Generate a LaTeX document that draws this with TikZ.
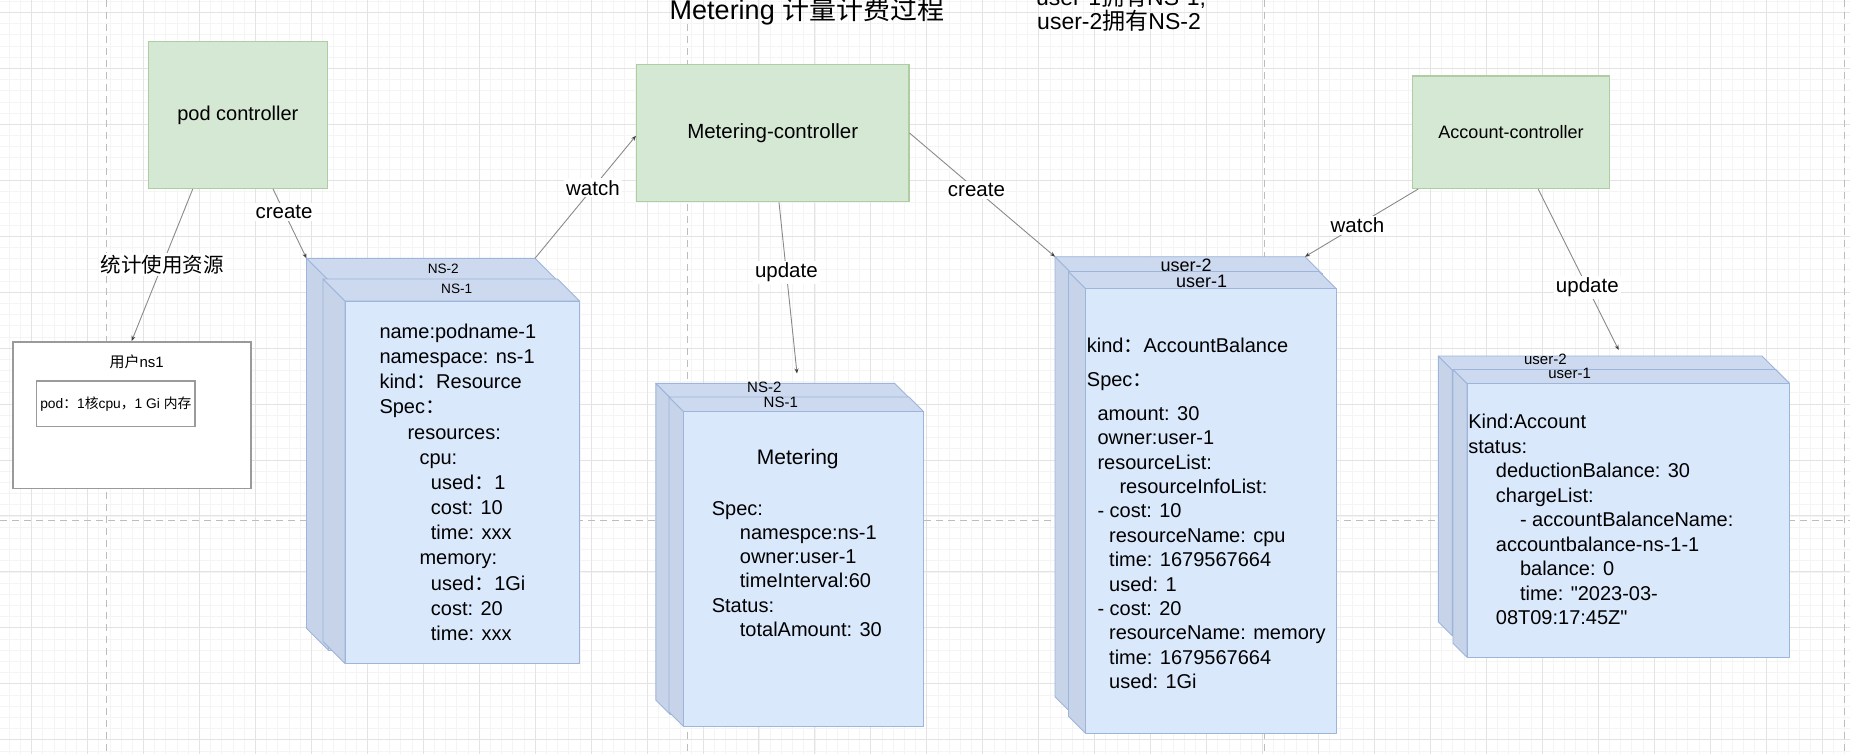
\documentclass[tikz,border=0pt]{standalone}
\usepackage{fontspec}
\setmainfont{Liberation Sans}
\newfontfamily\plainq{Liberation Sans}
\newfontfamily\cjk{Noto Sans CJK SC}
\usetikzlibrary{arrows.meta,calc}
\definecolor{gridmaj}{HTML}{E3E3E3}
\definecolor{gridmin}{HTML}{F4F4F4}
\definecolor{pagec}{HTML}{BDBDBD}
\definecolor{greenf}{HTML}{D5E8D4}
\definecolor{greend}{HTML}{AECDA0}
\definecolor{bluef}{HTML}{DAE8FC}
\definecolor{bluetop}{HTML}{CDD9EE}
\definecolor{blueleft}{HTML}{C7D3E8}
\definecolor{blued}{HTML}{9DB5DA}
\definecolor{arrowc}{HTML}{8A8A8A}
\definecolor{boxd}{HTML}{9A9A9A}
\newcommand\zh[1]{{\cjk #1}}
\newcommand\dq{{\plainq"}}
\newcommand\fsz[1]{\fontsize{#1pt}{#1pt}\selectfont}
\tikzset{
  gridmajl/.style={draw=gridmaj, line width=1pt},
  gridminl/.style={draw=gridmin, line width=0.8pt},
  pagel/.style={draw=pagec, line width=1pt, dash pattern=on 7pt off 5pt},
  ctrl/.style={draw=greend, fill=greenf, line width=1.2pt, inner sep=0pt},
  cubeface/.style={draw=blued, line width=0.9pt, line join=round},
  conn/.style={draw=arrowc, line width=0.9pt, -{Stealth[length=5pt,width=4pt,black!75]}},
  lbl/.style={fill=white, inner sep=2pt, font=\fsz{20.5}, text=black},
  txt/.style={anchor=base west, inner sep=0pt, font=\fsz{20}},
  cubelbl/.style={anchor=center, inner sep=0pt},
}
% #1 name, #2 x, #3 y, #4 w, #5 h, #6 depth
\newcommand\cubebox[6]{%
  \coordinate (#1-nw) at (#2,#3);
  \coordinate (#1-ne) at (#2+#4-#6,#3);
  \filldraw[cubeface, fill=blueleft] (#2,#3) -- (#2+#6,#3+#6) -- (#2+#6,#3+#5) -- (#2,#3+#5-#6) -- cycle;
  \filldraw[cubeface, fill=bluetop] (#2,#3) -- (#2+#4-#6,#3) -- (#2+#4,#3+#6) -- (#2+#6,#3+#6) -- cycle;
  \node (#1) [cubeface, fill=bluef, anchor=north west, inner sep=0pt, outer sep=0pt,
     minimum width={(#4-#6)*1pt}, minimum height={(#5-#6)*1pt}] at (#2+#6,#3+#6) {};
}
\begin{document}
\begin{tikzpicture}[x=1pt,y=-1pt]
\useasboundingbox (0,0) rectangle (1850,754);
\clip (0,0) rectangle (1850,754);
\fill[white] (0,0) rectangle (1850,754);
% grid
\foreach \i in {-3,...,165} \draw[gridminl] ({31.6+11.19*\i},0) -- ++(0,754);
\foreach \j in {-2,...,68} \draw[gridminl] (0,{12.4+11.19*\j}) -- ++(1850,0);
\foreach \i in {0,...,32} \draw[gridmajl] ({31.6+55.95*\i},0) -- ++(0,754);
\foreach \j in {0,...,13} \draw[gridmajl] (0,{12.4+55.95*\j}) -- ++(1850,0);
% page breaks
\foreach \x in {106.8,687,1264.3,1844.7} \draw[pagel] (\x,0) -- (\x,754);
\draw[pagel] (0,520.7) -- (1850,520.7);

% titles
\node (title) [anchor=base, inner sep=0pt, font=\fsz{27}] at (807,20) {Metering \zh{计量计费过程}};
\node (note1) [anchor=base, inner sep=0pt, font=\fsz{23}] at (1121,5.5) {user-1\zh{拥有}NS-1,};
\node (note2) [anchor=base, inner sep=0pt, font=\fsz{23}] at (1119,29.3) {user-2\zh{拥有}NS-2};

% controllers
\node (podc) [ctrl, minimum width=179pt, minimum height=146.6pt, font=\fsz{20}] at (237.85,115) {pod controller};
\node (metc) [ctrl, minimum width=272.4pt, minimum height=137.4pt, font=\fsz{20.5}] at (772.7,133) {Metering-controller};
\node (accc) [ctrl, minimum width=197.3pt, minimum height=112.3pt, font=\fsz{18}] at (1511,132.2) {Account-controller};

% user ns1 box
\node (ns1) [draw=boxd, fill=white, line width=1.6pt, minimum width=238pt, minimum height=146.6pt, inner sep=0pt] at (131.7,415) {};
\node (ns1t) [inner sep=0pt, font=\fsz{15}] at (136.7,361.7) {\zh{用户}ns1};
\node (pod) [draw=boxd, fill=white, line width=1.3pt, minimum width=158.3pt, minimum height=45.7pt, inner sep=0pt, font=\fsz{13.8}] at (115.85,403.85) {pod\zh{：}1\zh{核}cpu\zh{，}1 Gi \zh{内存}};

% Resource cubes
\cubebox{res2}{306.5}{258.3}{250.5}{392}{22}
\cubebox{res1}{323}{279}{256.5}{384.5}{22}
\node (res2l) [cubelbl, font=\fsz{13.6}] at (443.3,269.3) {NS-2};
\node (res1l) [cubelbl, font=\fsz{13.6}] at (456.7,289.3) {NS-1};
\node (r0) [txt] at (379.3,338.5) {name:podname-1};
\node (r1) [txt] at (379.3,363.65) {namespace: ns-1};
\node (r2) [txt] at (379.3,388.8) {kind\zh{：}Resource};
\node (r3) [txt] at (379.3,413.95) {Spec\zh{：}};
\node (r4) [txt] at (407.3,439.1) {resources:};
\node (r5) [txt] at (419.3,464.25) {cpu:};
\node (r6) [txt] at (430.7,489.4) {used\zh{：}1};
\node (r7) [txt] at (430.7,514.55) {cost: 10};
\node (r8) [txt] at (430.7,539.7) {time: xxx};
\node (r9) [txt] at (419.3,564.85) {memory:};
\node (r10) [txt] at (430.7,590) {used\zh{：}1Gi};
\node (r11) [txt] at (430.7,615.15) {cost: 20};
\node (r12) [txt] at (430.7,640.3) {time: xxx};

% Metering cubes
\cubebox{met2}{655.8}{383.3}{253.5}{331.4}{14.7}
\cubebox{met1}{669}{397}{254.7}{329.7}{14.7}
\node (met2l) [cubelbl, font=\fsz{15}] at (764.3,387.8) {NS-2};
\node (met1l) [cubelbl, font=\fsz{15}] at (780.8,402.8) {NS-1};
\node (m0) [anchor=base, inner sep=0pt, font=\fsz{21}] at (797.8,464.3) {Metering};
\node (m1) [txt] at (711.6,515.3) {Spec:};
\node (m2) [txt] at (739.7,539.5) {namespce:ns-1};
\node (m3) [txt] at (739.7,563.7) {owner:user-1};
\node (m4) [txt] at (739.7,587.9) {timeInterval:60};
\node (m5) [txt] at (711.6,612.1) {Status:};
\node (m6) [txt] at (739.7,636.3) {totalAmount: 30};

% AccountBalance cubes
\cubebox{ab2}{1055}{256.7}{267}{457}{17}
\cubebox{ab1}{1068.5}{271.5}{267.5}{461.8}{17}
\node (ab2l) [cubelbl, font=\fsz{18}] at (1186,265) {user-2};
\node (ab1l) [cubelbl, font=\fsz{18}] at (1201.7,281.7) {user-1};
\node (b0) [txt] at (1086.7,352) {kind\zh{：}AccountBalance};
\node (b1) [txt] at (1086.7,386.3) {Spec\zh{：}};
\node (b2) [txt] at (1097.3,420.3) {amount: 30};
\node (b3) [txt] at (1097.3,444.7) {owner:user-1};
\node (b4) [txt] at (1097.3,469.1) {resourceList:};
\node (b5) [txt] at (1119.3,493.5) {resourceInfoList:};
\node (b6) [txt] at (1097.3,517.9) {- cost: 10};
\node (b7) [txt] at (1109,542.3) {resourceName: cpu};
\node (b8) [txt] at (1109,566.7) {time: 1679567664};
\node (b9) [txt] at (1109,591.1) {used: 1};
\node (b10) [txt] at (1097.3,615.5) {- cost: 20};
\node (b11) [txt] at (1109,639.9) {resourceName: memory};
\node (b12) [txt] at (1109,664.3) {time: 1679567664};
\node (b13) [txt] at (1109,688.7) {used: 1Gi};

% Account cubes
\cubebox{acc2}{1438.3}{356}{337.7}{279.7}{14}
\cubebox{acc1}{1453}{369.5}{336.6}{287.8}{14}
\node (acc2l) [cubelbl, font=\fsz{15}] at (1545.4,359.8) {user-2};
\node (acc1l) [cubelbl, font=\fsz{15}] at (1569.6,373.2) {user-1};
\node (a0) [txt] at (1468.1,428.5) {Kind:Account};
\node (a1) [txt] at (1468.1,453) {status:};
\node (a2) [txt] at (1495.7,477.5) {deductionBalance: 30};
\node (a3) [txt] at (1495.7,502) {chargeList:};
\node (a4) [txt] at (1519.8,526.5) {- accountBalanceName:};
\node (a5) [txt] at (1495.7,551) {accountbalance-ns-1-1};
\node (a6) [txt] at (1519.8,575.5) {balance: 0};
\node (a7) [txt] at (1519.8,600) {time: \dq2023-03-};
\node (a8) [txt] at (1495.7,624.5) {08T09:17:45Z\dq};

% connectors
\coordinate (metin) at (797,373.5);
\coordinate (accin) at (1618.7,350);
\draw[conn] ($(podc.south west)!0.25!(podc.south east)$) -- node[lbl, pos=0.5] {\zh{统计使用资源}} (ns1.north);
\draw[conn] ($(podc.south west)!0.695!(podc.south east)$) -- node[lbl, pos=0.33] {create} (res2-nw);
\draw[conn] (res2-ne) -- node[lbl, pos=0.574] {watch} ($(metc.north west)!0.52!(metc.south west)$);
\draw[conn] ($(metc.south west)!0.523!(metc.south east)$) -- node[lbl, pos=0.41] {update} (metin);
\draw[conn] (metc.east) -- node[lbl, pos=0.46] {create} (ab2-nw);
\draw[conn] ($(accc.south west)!0.033!(accc.south east)$) -- node[lbl, pos=0.537] {watch} (ab2-ne);
\draw[conn] ($(accc.south west)!0.637!(accc.south east)$) -- node[lbl, pos=0.61] {update} (accin);
\end{tikzpicture}
\end{document}
